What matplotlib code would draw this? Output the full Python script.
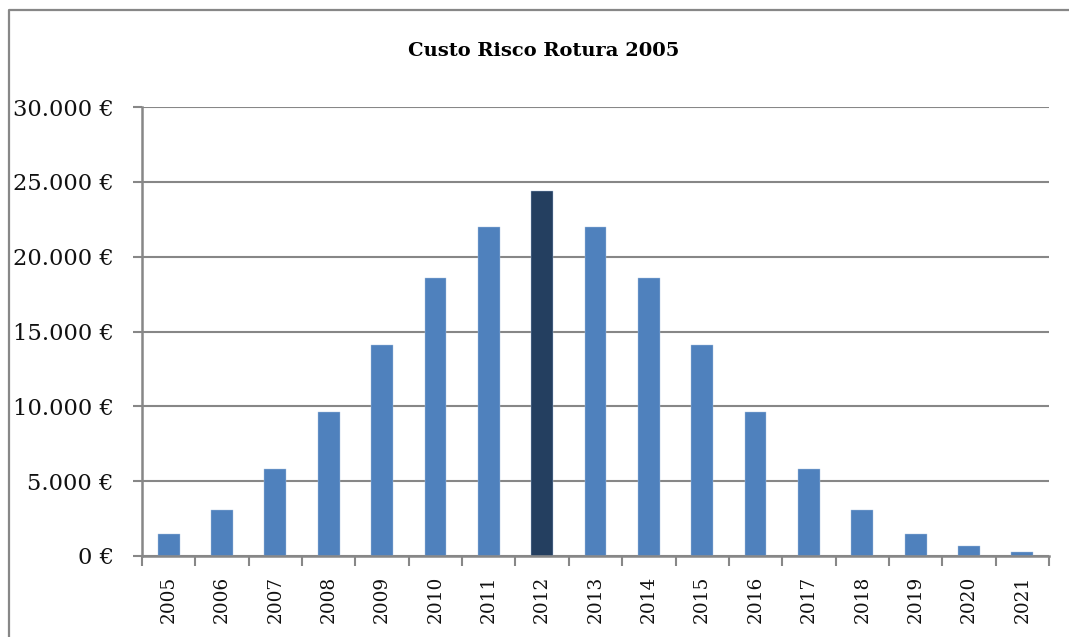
import matplotlib
matplotlib.use("Agg")
import matplotlib.pyplot as plt
from matplotlib.lines import Line2D
from matplotlib.ticker import FuncFormatter, MultipleLocator

years = [str(y) for y in range(2005, 2022)]
custo = [1500, 3100, 5800, 9600, 14100, 18600, 22000, 24400,
         22000, 18600, 14100, 9600, 5800, 3100, 1500, 650, 260]
destaque = "2012"
titulo = "Custo Risco Rotura 2005"

cor_barra = "#4F81BD"
cor_destaque = "#243F60"
cor_linha = "#878787"

plt.rcParams["font.family"] = ["DejaVu Serif"]

fig = plt.figure(figsize=(10.69, 6.37), dpi=100)
ax = fig.add_axes([142 / 1069, 81 / 637, 907 / 1069, 449 / 637])

x = list(range(len(years)))
cores = [cor_destaque if y == destaque else cor_barra for y in years]
ax.bar(x, custo, width=0.41, color=cores, edgecolor="#A9C1E0",
       linewidth=0.3, zorder=3)

ax.set_xlim(-0.5, len(years) - 0.5)
ax.set_ylim(0, 30000)

ax.yaxis.set_major_locator(MultipleLocator(5000))
ax.yaxis.set_major_formatter(
    FuncFormatter(lambda v, p: f"{int(v):,}".replace(",", ".") + " €"))
ax.grid(axis="y", color=cor_linha, linewidth=1.5, zorder=1)
ax.tick_params(axis="y", length=6.5, width=1.5, color=cor_linha,
               labelsize=16.3, pad=14, labelcolor="#111111")

ax.set_xticks(x)
ax.set_xticklabels(years, rotation=90, fontsize=13.3, color="#111111")
ax.set_xticks([i - 0.5 for i in range(len(years) + 1)], minor=True)
ax.tick_params(axis="x", which="major", length=0, pad=14)
ax.tick_params(axis="x", which="minor", length=7.5, width=1.5,
               color=cor_linha)

for lado in ("top", "right"):
    ax.spines[lado].set_visible(False)
for lado in ("left", "bottom"):
    ax.spines[lado].set_color(cor_linha)
    ax.spines[lado].set_linewidth(1.8)
    ax.spines[lado].set_zorder(4)

fig.text(544 / 1069, 1 - 51 / 637, titulo, ha="center", va="center",
         fontsize=14, fontweight="bold")

# moldura exterior do gráfico
x0 = 9 / 1069
y0 = 1 - 10 / 637
fig.add_artist(Line2D([x0, x0, 1.02], [-0.02, y0, y0],
                      transform=fig.transFigure,
                      color=cor_linha, linewidth=1.6))

fig.savefig("out.png", dpi=100)
